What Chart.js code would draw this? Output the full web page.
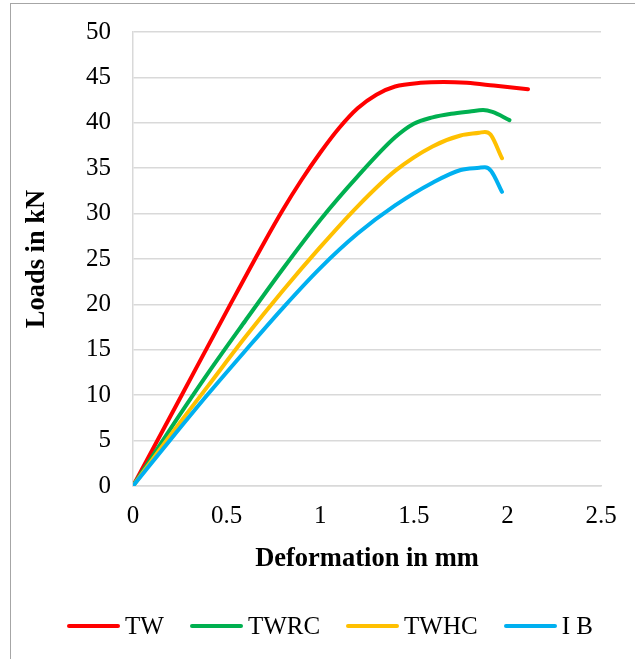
<!DOCTYPE html>
<html>
<head>
<meta charset="utf-8">
<script src="https://cdn.jsdelivr.net/npm/chart.js@4.4.1/dist/chart.umd.min.js"></script>
<style>
  html, body { margin: 0; padding: 0; background: #fff; overflow: hidden; }
  body { width: 635px; height: 659px; position: relative; }
  #frame { position: absolute; left: 10px; top: 3px; width: 700px; height: 700px;
           border: 1px solid #a6a6a6; box-sizing: border-box; }
  #wrap { position: absolute; left: 0; top: 0; width: 635px; height: 659px; }
  #legend { position: absolute; left: 67px; top: 611px; height: 30px; display: flex;
            align-items: center; font-family: 'Liberation Serif', 'Times New Roman', serif;
            font-size: 25px; color: #000; white-space: pre; }
  .item { display: flex; align-items: center; margin-right: 26px; }
  .swatch { width: 53px; height: 4px; border-radius: 2px; margin-right: 5px; }
</style>
</head>
<body>
<div id="frame"></div>
<div id="wrap"><canvas id="chart" width="635" height="659"></canvas></div>
<div id="legend"></div>
<script>
// Load–deformation curves, [deformation mm, load kN]
const seriesNames = ['TW', 'TWRC', 'TWHC', 'I B'];
const seriesColors = ['#ff0000', '#00b050', '#ffc000', '#00b0f0'];

const tw = [[0, 0], [0.26, 10], [0.52, 20], [0.7, 26.8], [0.8, 30.4], [0.9, 33.7],
  [1.0, 36.7], [1.1, 39.4], [1.2, 41.6], [1.3, 43.1], [1.4, 44.0], [1.535, 44.4],
  [1.66, 44.5], [1.784, 44.4], [1.927, 44.1], [2.11, 43.7]];
const twrc = [[0, 0], [0.2, 6.3], [0.4, 12.4], [0.6, 18.2], [0.8, 23.9], [1.0, 29.3],
  [1.2, 34.1], [1.4, 38.4], [1.5, 39.9], [1.6, 40.6], [1.7, 41.0], [1.8, 41.25],
  [1.87, 41.4], [1.92, 41.2], [2.011, 40.3]];
const twhc = [[0, 0], [0.2, 5.6], [0.4, 11.0], [0.6, 16.4], [0.8, 21.5], [1.0, 26.3],
  [1.2, 30.8], [1.4, 34.7], [1.6, 37.4], [1.75, 38.6], [1.85, 38.9], [1.88, 39.0],
  [1.91, 38.7], [1.971, 36.1]];
const ib = [[0, 0], [0.2, 5.1], [0.4, 10.1], [0.6, 14.9], [0.8, 19.6], [1.0, 24.0],
  [1.2, 27.8], [1.4, 30.9], [1.6, 33.4], [1.75, 34.8], [1.85, 35.05], [1.88, 35.1],
  [1.913, 34.7], [1.971, 32.4]];

const xTickLabels = ['0', '0.5', '1', '1.5', '2', '2.5'];
const yTickLabels = ['0', '5', '10', '15', '20', '25', '30', '35', '40', '45', '50'];

const seriesData = [tw, twrc, twhc, ib];
const serif = "'Liberation Serif', 'Times New Roman', serif";

const datasets = seriesData.map((pts, i) => ({
  label: seriesNames[i],
  data: pts.map(p => ({ x: p[0], y: p[1] })),
  borderColor: seriesColors[i],
  backgroundColor: seriesColors[i],
  borderWidth: 4,
  borderCapStyle: 'round',
  borderJoinStyle: 'round',
  pointRadius: 0,
  showLine: true,
  fill: false,
  cubicInterpolationMode: 'monotone',
  order: seriesData.length - i
}));

new Chart(document.getElementById('chart'), {
  type: 'scatter',
  data: { datasets },
  options: {
    responsive: false,
    animation: false,
    devicePixelRatio: 1,
    layout: { padding: { left: 21, top: 32, right: 34, bottom: 84 } },
    plugins: { legend: { display: false }, tooltip: { enabled: false } },
    scales: {
      x: {
        type: 'linear', min: 0, max: 2.5,
        afterFit: s => { s.height = 89; },
        ticks: {
          stepSize: 0.5, padding: 15, color: '#000',
          font: { family: serif, size: 25 },
          callback: (v, i) => xTickLabels[i]
        },
        grid: { display: false, drawTicks: false },
        border: { display: true, color: '#d9d9d9', width: 1.5 },
        title: {
          display: true, text: 'Deformation in mm', color: '#000',
          font: { family: serif, size: 26.5, weight: 'bold' }, padding: 0
        }
      },
      y: {
        min: 0, max: 50,
        afterFit: s => { s.width = 112; s.paddingTop = 0; s.paddingBottom = 0; },
        ticks: {
          stepSize: 5, padding: 22, color: '#000',
          font: { family: serif, size: 25 },
          callback: (v, i) => yTickLabels[i]
        },
        grid: { color: '#d9d9d9', lineWidth: 1.5, drawTicks: false },
        border: { display: true, color: '#d9d9d9', width: 1.5 },
        title: {
          display: true, text: 'Loads in kN', color: '#000',
          font: { family: serif, size: 26.5, weight: 'bold' }, padding: 0
        }
      }
    }
  }
});

// Legend row built from the same series names and colours
const legend = document.getElementById('legend');
seriesNames.forEach((name, i) => {
  const item = document.createElement('div');
  item.className = 'item';
  const sw = document.createElement('span');
  sw.className = 'swatch';
  sw.style.background = seriesColors[i];
  const txt = document.createElement('span');
  txt.textContent = name;
  item.appendChild(sw);
  item.appendChild(txt);
  legend.appendChild(item);
});
</script>
</body>
</html>
